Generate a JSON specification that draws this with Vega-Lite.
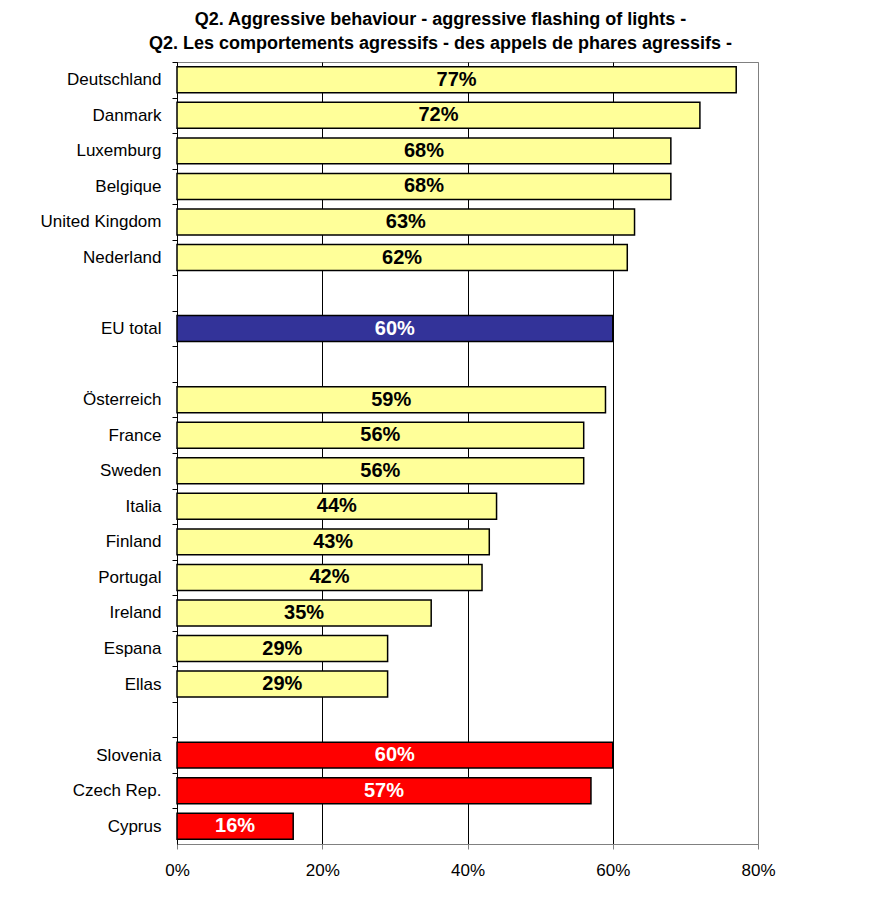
{
  "$schema": "https://vega.github.io/schema/vega-lite/v6.json",
  "autosize": "none",
  "width": 581,
  "height": 782,
  "padding": {"left": 177, "top": 62, "right": 130, "bottom": 73},
  "background": "white",
  "title": {
    "text": ["Q2. Aggressive behaviour - aggressive flashing of lights -", "Q2. Les comportements agressifs - des appels de phares agressifs -"],
    "font": "Liberation Sans",
    "fontSize": 18,
    "fontWeight": "bold",
    "color": "black",
    "anchor": "middle",
    "frame": "group",
    "dx": -27,
    "lineHeight": 24,
    "offset": 9
  },
  "data": {
    "values": [
      {"country": "Deutschland", "value": 77, "group": "old"},
      {"country": "Danmark", "value": 72, "group": "old"},
      {"country": "Luxemburg", "value": 68, "group": "old"},
      {"country": "Belgique", "value": 68, "group": "old"},
      {"country": "United Kingdom", "value": 63, "group": "old"},
      {"country": "Nederland", "value": 62, "group": "old"},
      {"country": "EU total", "value": 60, "group": "eu"},
      {"country": "Österreich", "value": 59, "group": "old"},
      {"country": "France", "value": 56, "group": "old"},
      {"country": "Sweden", "value": 56, "group": "old"},
      {"country": "Italia", "value": 44, "group": "old"},
      {"country": "Finland", "value": 43, "group": "old"},
      {"country": "Portugal", "value": 42, "group": "old"},
      {"country": "Ireland", "value": 35, "group": "old"},
      {"country": "Espana", "value": 29, "group": "old"},
      {"country": "Ellas", "value": 29, "group": "old"},
      {"country": "Slovenia", "value": 60, "group": "new"},
      {"country": "Czech Rep.", "value": 57, "group": "new"},
      {"country": "Cyprus", "value": 16, "group": "new"}
    ]
  },
  "transform": [
    {"calculate": "datum.value / 2", "as": "mid"},
    {"calculate": "datum.value + '%'", "as": "label"}
  ],
  "encoding": {
    "y": {
      "field": "country",
      "type": "nominal",
      "title": null,
      "scale": {
        "domain": ["Deutschland", "Danmark", "Luxemburg", "Belgique", "United Kingdom", "Nederland", "_1", "EU total", "_2", "Österreich", "France", "Sweden", "Italia", "Finland", "Portugal", "Ireland", "Espana", "Ellas", "_3", "Slovenia", "Czech Rep.", "Cyprus"],
        "paddingInner": 0.27,
        "paddingOuter": 0.135
      },
      "axis": {
        "labelExpr": "indexof(datum.value, '_') == 0 ? '' : datum.value",
        "labelFont": "Liberation Sans",
        "labelFontSize": 17,
        "labelColor": "black",
        "labelPadding": 11,
        "tickOffset": -17.77,
        "labelOffset": 17.77,
        "tickSize": 5,
        "tickColor": "black",
        "domainColor": "black",
        "grid": false
      }
    }
  },
  "layer": [
    {
      "mark": {"type": "bar", "stroke": "black", "strokeWidth": 1.5},
      "encoding": {
        "x": {
          "field": "value",
          "type": "quantitative",
          "title": null,
          "scale": {"domain": [0, 80], "nice": false},
          "axis": {
            "values": [0, 20, 40, 60, 80],
            "labelExpr": "datum.value + '%'",
            "labelFont": "Liberation Sans",
            "labelFontSize": 17,
            "labelColor": "black",
            "labelPadding": 13,
            "labelFlush": false,
            "tickSize": 5,
            "tickColor": "#808080",
            "domainColor": "#808080",
            "grid": true,
            "gridColor": {"condition": {"test": "datum.value === 80", "value": "#808080"}, "value": "black"},
            "gridOpacity": 1
          }
        },
        "color": {
          "field": "group",
          "type": "nominal",
          "legend": null,
          "scale": {"domain": ["old", "eu", "new"], "range": ["#FFFF99", "#333399", "#FF0000"]}
        }
      }
    },
    {
      "mark": {"type": "text", "font": "Liberation Sans", "fontSize": 20, "fontWeight": "bold", "align": "center", "baseline": "middle"},
      "encoding": {
        "x": {"field": "mid", "type": "quantitative"},
        "text": {"field": "label", "type": "nominal"},
        "color": {
          "condition": {"test": "datum.group == 'old'", "value": "black"},
          "value": "white"
        }
      }
    }
  ],
  "config": {
    "view": {"stroke": "#808080", "strokeWidth": 1}
  }
}
